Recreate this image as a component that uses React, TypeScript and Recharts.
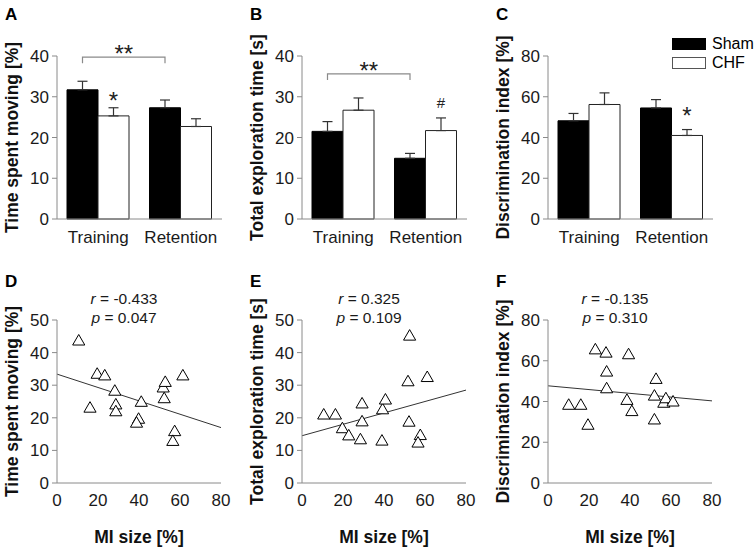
import React from 'react'
import {
  BarChart, Bar, XAxis, YAxis, ErrorBar, LabelList,
  ScatterChart, Scatter, ZAxis, ReferenceLine,
} from 'recharts'

// ---- bar panels (A-C) ----
const categories = ['Training', 'Retention']

const movingSham = [31.7, 27.3]
const movingShamErr = [2.1, 1.9]
const movingChf = [25.3, 22.7]
const movingChfErr = [2.0, 1.9]

const explSham = [21.5, 14.9]
const explShamErr = [2.4, 1.2]
const explChf = [26.7, 21.7]
const explChfErr = [3.0, 3.1]

const discSham = [48.2, 54.5]
const discShamErr = [3.6, 4.1]
const discChf = [56.2, 41.0]
const discChfErr = [5.7, 2.9]

// significance marks above CHF bars
const movingMarks = ['*', '']
const explMarks = ['', '#']
const discMarks = ['', '*']

// ---- scatter panels (D-F) ----
const miMoving = [10.6, 19.6, 23.3, 16.1, 28.2, 28.7, 28.7, 41.1, 39.8, 38.8, 51.8, 52.8, 52.3, 61.4, 57.4, 56.5]
const movingVals = [43.4, 33.2, 32.7, 22.8, 28.0, 23.8, 21.7, 24.6, 19.4, 18.2, 29.0, 30.7, 25.7, 32.7, 15.6, 12.6]

const miExpl = [10.6, 16.3, 19.7, 22.8, 28.5, 29.3, 29.3, 39.0, 39.3, 40.7, 51.7, 52.5, 52.2, 61.1, 57.7, 56.6]
const explVals = [20.7, 20.7, 16.5, 14.3, 13.1, 24.1, 18.6, 12.7, 22.3, 25.3, 30.9, 44.9, 18.5, 32.2, 14.4, 12.1]

const miDisc = [10.1, 16.0, 19.5, 23.1, 28.3, 28.6, 28.6, 39.3, 38.5, 40.9, 52.7, 51.9, 51.9, 56.5, 57.5, 61.0]
const discVals = [37.9, 37.9, 28.1, 65.1, 63.5, 54.2, 46.0, 62.7, 40.3, 34.8, 50.6, 42.4, 30.7, 38.9, 41.1, 39.5]

// regression line ends at MI = 0 and MI = 80
const movingFit = [33.4, 17.0]
const explFit = [14.5, 28.5]
const discFit = [47.7, 40.3]

const FONT = '"Liberation Sans", Arial, sans-serif'
const AXIS = '#8a8a8a'
const PLOT_W = 165
const BAND = PLOT_W / categories.length

const tickStyle = { fontSize: 17, fill: '#1a1a1a' }

function bracketLabel(bracketVal: number | null) {
  return (props: any) => {
    const { index, value } = props
    const vb = props.viewBox || props
    if (index !== 0 || bracketVal == null) return null
    const x0 = vb.x + vb.width / 2
    const x1 = x0 + BAND
    const base = vb.y + vb.height
    const y = base - (bracketVal * vb.height) / value
    return (
      <g>
        <path d={`M${x0},${y + 6}V${y}H${x1}V${y + 6}`} fill="none" stroke={AXIS} strokeWidth={1.2} />
        <text x={(x0 + x1) / 2} y={y + 5} textAnchor="middle" fontSize={24} fill="#222">**</text>
      </g>
    )
  }
}

function markLabel(marks: string[], markY: (number | null)[]) {
  return (props: any) => {
    const { index, value } = props
    const vb = props.viewBox || props
    const m = marks[index]
    const my = markY[index]
    if (!m || my == null) return null
    const base = vb.y + vb.height
    const y = base - (my * vb.height) / value
    return (
      <text x={vb.x + vb.width / 2} y={y} textAnchor="middle" fontSize={m === '#' ? 15 : 24} fill="#222">{m}</text>
    )
  }
}

interface BarPanelProps {
  left: number
  width: number
  letter: string
  yLabel: string
  yMax: number
  yTicks: number[]
  sham: number[]
  shamErr: number[]
  chf: number[]
  chfErr: number[]
  bracketY: number | null
  marks: string[]
  markY: (number | null)[]
  legend?: boolean
}

function BarPanel(p: BarPanelProps) {
  const data = categories.map((c, i) => ({
    name: c,
    sham: p.sham[i],
    chf: p.chf[i],
    shamErr: [0, p.shamErr[i]],
    chfErr: [0, p.chfErr[i]],
  }))
  return (
    <div style={{ position: 'absolute', left: p.left, top: 0, width: p.width, height: 260 }}>
      <div style={{ position: 'absolute', left: 5, top: 5, fontWeight: 'bold', fontSize: 17 }}>{p.letter}</div>
      <BarChart
        width={p.width}
        height={260}
        data={data}
        margin={{ top: 56, right: p.width - 57 - PLOT_W, bottom: 11, left: 0 }}
        barGap={0}
        barSize={31}
      >
        <XAxis
          dataKey="name"
          height={30}
          tickLine={false}
          stroke={AXIS}
          tick={tickStyle}
          tickMargin={6}
        />
        <YAxis
          width={57}
          domain={[0, p.yMax]}
          ticks={p.yTicks}
          stroke={AXIS}
          tick={tickStyle}
          tickSize={5}
          tickMargin={3}
          label={{
            value: p.yLabel,
            angle: -90,
            position: 'insideLeft',
            offset: 12,
            style: { textAnchor: 'middle', fontWeight: 'bold', fontSize: 17.5, fill: '#111' },
          }}
        />
        <Bar dataKey="sham" fill="#000" stroke="#000" isAnimationActive={false}>
          <ErrorBar dataKey="shamErr" width={5} stroke="#333" strokeWidth={1.2} />
          <LabelList dataKey="sham" content={bracketLabel(p.bracketY)} />
        </Bar>
        <Bar dataKey="chf" fill="#fff" stroke="#222" isAnimationActive={false}>
          <ErrorBar dataKey="chfErr" width={5} stroke="#333" strokeWidth={1.2} />
          <LabelList dataKey="chf" content={markLabel(p.marks, p.markY)} />
        </Bar>
      </BarChart>
      {p.legend && (
        <div style={{ position: 'absolute', left: 181, top: 34, fontSize: 16, lineHeight: '19px' }}>
          <div style={{ display: 'flex', alignItems: 'center' }}>
            <span style={{ display: 'inline-block', width: 32, height: 10, background: '#000', border: '1px solid #000', marginRight: 6 }} />
            Sham
          </div>
          <div style={{ display: 'flex', alignItems: 'center' }}>
            <span style={{ display: 'inline-block', width: 32, height: 10, background: '#fff', border: '1px solid #555', marginRight: 6 }} />
            CHF
          </div>
        </div>
      )}
    </div>
  )
}

interface ScatterPanelProps {
  left: number
  letter: string
  yLabel: string
  yMax: number
  yTicks: number[]
  mi: number[]
  vals: number[]
  fit: number[]
  r: string
  p: string
}

function ScatterPanel(s: ScatterPanelProps) {
  const data = s.mi.map((m, i) => ({ x: m, y: s.vals[i] }))
  return (
    <div style={{ position: 'absolute', left: s.left, top: 270, width: 245, height: 278 }}>
      <div style={{ position: 'absolute', left: 5, top: 2, fontWeight: 'bold', fontSize: 17 }}>{s.letter}</div>
      <ScatterChart width={245} height={278} margin={{ top: 50, right: 24, bottom: 30, left: 0 }}>
        <XAxis
          type="number"
          dataKey="x"
          domain={[0, 80]}
          ticks={[0, 20, 40, 60, 80]}
          height={35}
          stroke={AXIS}
          tick={tickStyle}
          tickSize={0}
          tickMargin={11}
          label={{
            value: 'MI size [%]',
            position: 'bottom',
            offset: 13,
            style: { fontWeight: 'bold', fontSize: 17.5, fill: '#111' },
          }}
        />
        <YAxis
          type="number"
          dataKey="y"
          width={57}
          domain={[0, s.yMax]}
          ticks={s.yTicks}
          stroke={AXIS}
          tick={tickStyle}
          tickSize={5}
          tickMargin={3}
          label={{
            value: s.yLabel,
            angle: -90,
            position: 'insideLeft',
            offset: 12,
            style: { textAnchor: 'middle', fontWeight: 'bold', fontSize: 17.5, fill: '#111' },
          }}
        />
        <ZAxis range={[72, 72]} />
        <ReferenceLine
          segment={[{ x: 0, y: s.fit[0] }, { x: 80, y: s.fit[1] }]}
          stroke="#333"
          strokeWidth={1}
        />
        <Scatter data={data} shape="triangle" fill="#fff" stroke="#000" strokeWidth={1} isAnimationActive={false} />
      </ScatterChart>
      <div style={{ position: 'absolute', left: 64, top: 19, width: 120, textAlign: 'center', fontSize: 15.5, lineHeight: '19px', color: '#1a1a1a' }}>
        <div><i>r</i> = {s.r}</div>
        <div><i>p</i> = {s.p}</div>
      </div>
    </div>
  )
}

export default function App() {
  return (
    <div style={{ position: 'absolute', left: 0, top: 0, width: 755, height: 548, background: '#fff', fontFamily: FONT }}>
      <BarPanel
        left={0} width={245} letter="A" yLabel="Time spent moving [%]"
        yMax={40} yTicks={[0, 10, 20, 30, 40]}
        sham={movingSham} shamErr={movingShamErr} chf={movingChf} chfErr={movingChfErr}
        bracketY={39.7} marks={movingMarks} markY={[27.0, null]}
      />
      <BarPanel
        left={245} width={245} letter="B" yLabel="Total exploration time [s]"
        yMax={40} yTicks={[0, 10, 20, 30, 40]}
        sham={explSham} shamErr={explShamErr} chf={explChf} chfErr={explChfErr}
        bracketY={35.6} marks={explMarks} markY={[null, 27.2]}
      />
      <BarPanel
        left={491} width={264} letter="C" yLabel="Discrimination index [%]"
        yMax={80} yTicks={[0, 20, 40, 60, 80]}
        sham={discSham} shamErr={discShamErr} chf={discChf} chfErr={discChfErr}
        bracketY={null} marks={discMarks} markY={[null, 46.6]} legend
      />
      <ScatterPanel
        left={0} letter="D" yLabel="Time spent moving [%]" yMax={50} yTicks={[0, 10, 20, 30, 40, 50]}
        mi={miMoving} vals={movingVals} fit={movingFit} r="-0.433" p="0.047"
      />
      <ScatterPanel
        left={245} letter="E" yLabel="Total exploration time [s]" yMax={50} yTicks={[0, 10, 20, 30, 40, 50]}
        mi={miExpl} vals={explVals} fit={explFit} r="0.325" p="0.109"
      />
      <ScatterPanel
        left={491} letter="F" yLabel="Discrimination index [%]" yMax={80} yTicks={[0, 20, 40, 60, 80]}
        mi={miDisc} vals={discVals} fit={discFit} r="-0.135" p="0.310"
      />
    </div>
  )
}
